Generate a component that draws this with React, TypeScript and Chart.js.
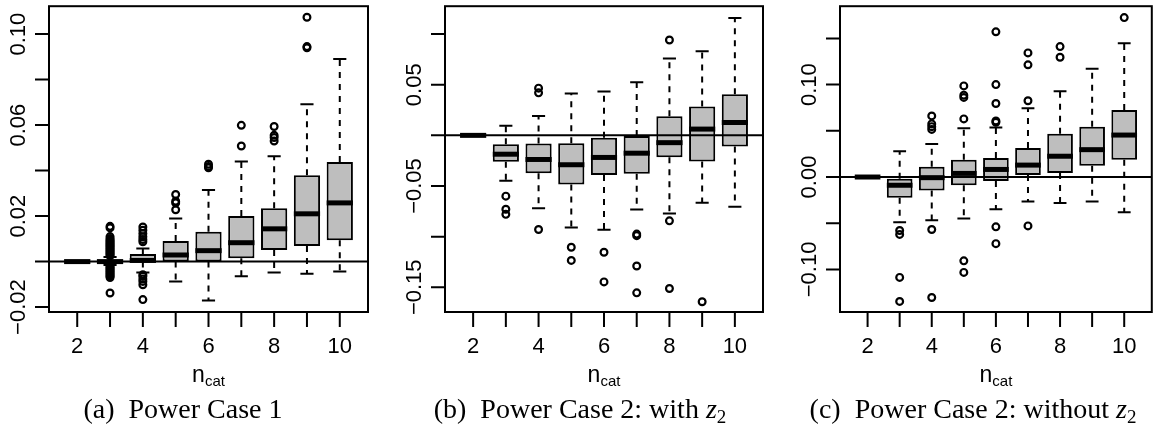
import React, { useEffect, useRef } from 'react';
import { Chart, registerables } from 'chart.js';
Chart.register(...registerables);

const CATEGORIES = [2, 3, 4, 5, 6, 7, 8, 9, 10];
const X_TICK_LABELS = ['2', '', '4', '', '6', '', '8', '', '10'];

// Panel (a) Power Case 1
const A_LOWER = [0, -0.0015, -0.0048, -0.0087, -0.0171, -0.0065, -0.0048, -0.0054, -0.0044];
const A_Q1 = [0, -0.0003, 0, 0, 0, 0.00145, 0.0051, 0.0068, 0.0094];
const A_MEDIAN = [0, 0, 0.0005, 0.0029, 0.0048, 0.0083, 0.0144, 0.021, 0.0258];
const A_Q3 = [0, 0.0003, 0.0033, 0.0091, 0.0131, 0.02, 0.0235, 0.038, 0.0438];
const A_UPPER = [0, 0.002, 0.0058, 0.0189, 0.0315, 0.044, 0.0463, 0.0692, 0.089];
const A_OUTLIERS = [
  [],
  [0.0155, 0.0148, 0.011, 0.0102, 0.0095, 0.009, 0.0085, 0.008, 0.0075, 0.007, 0.0065, 0.006, 0.0055, 0.005, 0.0045, 0.004, 0.0035, 0.003, 0.0025,
    -0.002, -0.0025, -0.003, -0.0035, -0.004, -0.0045, -0.005, -0.0055, -0.006, -0.0065, -0.007, -0.0138],
  [0.0152, 0.0138, 0.0123, 0.0109, 0.0097, 0.0087, -0.0058, -0.0065, -0.0077, -0.0087, -0.0102, -0.0167],
  [0.0295, 0.0265, 0.0258, 0.0228],
  [0.0428, 0.0418, 0.0412],
  [0.0599, 0.0508],
  [0.0594, 0.0555, 0.0545, 0.053],
  [0.1074, 0.0945, 0.094],
  [],
];
const A_Y_TICKS = [-0.02, 0, 0.02, 0.04, 0.06, 0.08, 0.1];
const A_Y_LABELS = ['\u22120.02', '', '0.02', '', '0.06', '', '0.10'];

// Panel (b) Power Case 2: with z2
const B_LOWER = [0, -0.0447, -0.072, -0.0909, -0.0932, -0.0733, -0.0772, -0.0665, -0.0704];
const B_Q1 = [0, -0.0261, -0.0375, -0.0486, -0.0391, -0.0378, -0.0215, -0.0257, -0.0111];
const B_MEDIAN = [0, -0.0186, -0.0238, -0.029, -0.0218, -0.0176, -0.0072, 0.0062, 0.0127];
const B_Q3 = [0, -0.0088, -0.0081, -0.0078, -0.0023, -0.0007, 0.0189, 0.0284, 0.0407];
const B_UPPER = [0, 0.0095, 0.0192, 0.0414, 0.0434, 0.0525, 0.0759, 0.0831, 0.116];
const B_OUTLIERS = [
  [],
  [-0.06, -0.073, -0.078],
  [0.0466, 0.042, -0.0929],
  [-0.1105, -0.1235],
  [-0.1154, -0.1447],
  [-0.0975, -0.099, -0.129, -0.1555],
  [0.0942, -0.0844, -0.1512],
  [-0.1643],
  [],
];
const B_Y_TICKS = [-0.15, -0.1, -0.05, 0, 0.05, 0.1];
const B_Y_LABELS = ['\u22120.15', '', '\u22120.05', '', '0.05', ''];

// Panel (c) Power Case 2: without z2
const C_LOWER = [0, -0.0489, -0.0468, -0.045, -0.035, -0.0264, -0.0282, -0.0264, -0.0382];
const C_Q1 = [0, -0.0225, -0.0146, -0.0089, -0.0043, 0.0021, 0.0043, 0.0121, 0.0186];
const C_MEDIAN = [0, -0.0089, -0.0007, 0.0039, 0.0082, 0.0129, 0.0225, 0.0296, 0.0454];
const C_Q3 = [0, -0.0018, 0.0111, 0.0186, 0.0207, 0.0314, 0.0468, 0.0543, 0.0725];
const C_UPPER = [0, 0.0279, 0.0357, 0.0529, 0.0536, 0.0743, 0.0929, 0.1171, 0.1446];
const C_OUTLIERS = [
  [],
  [-0.0579, -0.0621, -0.1086, -0.1346],
  [0.0661, 0.0575, 0.0545, 0.0515, -0.0568, -0.1304],
  [0.0986, 0.0886, 0.0861, 0.0629, -0.0907, -0.1032],
  [0.1571, 0.1, 0.0796, 0.0607, 0.0593, -0.0539, -0.0721],
  [0.1343, 0.1214, 0.0825, -0.0529],
  [0.1411, 0.1296],
  [],
  [0.1725],
];
const C_Y_TICKS = [-0.1, -0.05, 0, 0.05, 0.1, 0.15];
const C_Y_LABELS = ['\u22120.10', '', '0.00', '', '0.10', ''];

type Seg = { text: string; italic?: boolean; sub?: boolean };

type PanelDef = {
  left: number;
  width: number;
  padding: { left: number; right: number; top: number; bottom: number };
  yMin: number;
  yMax: number;
  lower: number[];
  q1: number[];
  median: number[];
  q3: number[];
  upper: number[];
  outliers: number[][];
  yTicks: number[];
  yLabels: string[];
  caption: Seg[];
  captionCenter: number;
};

const PANELS: PanelDef[] = [
  {
    left: 0, width: 385,
    padding: { left: 49, right: 17, top: 3, bottom: 122 },
    yMin: -0.02216, yMax: 0.11226,
    lower: A_LOWER, q1: A_Q1, median: A_MEDIAN, q3: A_Q3, upper: A_UPPER, outliers: A_OUTLIERS,
    yTicks: A_Y_TICKS, yLabels: A_Y_LABELS,
    caption: [{ text: '(a)  Power Case 1' }],
    captionCenter: 183,
  },
  {
    left: 385, width: 385,
    padding: { left: 60, right: 7, top: 3, bottom: 122 },
    yMin: -0.17441, yMax: 0.12754,
    lower: B_LOWER, q1: B_Q1, median: B_MEDIAN, q3: B_Q3, upper: B_UPPER, outliers: B_OUTLIERS,
    yTicks: B_Y_TICKS, yLabels: B_Y_LABELS,
    caption: [{ text: '(b)  Power Case 2: with ' }, { text: 'z', italic: true }, { text: '2', sub: true }],
    captionCenter: 195,
  },
  {
    left: 770, width: 388,
    padding: { left: 70, right: 1, top: 3, bottom: 122 },
    yMin: -0.14604, yMax: 0.18482,
    lower: C_LOWER, q1: C_Q1, median: C_MEDIAN, q3: C_Q3, upper: C_UPPER, outliers: C_OUTLIERS,
    yTicks: C_Y_TICKS, yLabels: C_Y_LABELS,
    caption: [{ text: '(c)  Power Case 2: without ' }, { text: 'z', italic: true }, { text: '2', sub: true }],
    captionCenter: 203,
  },
];

const X_MIN = 1.14;
const X_MAX = 10.86;
const BOX_HALF = 0.4;
const STAPLE_HALF = 0.2;
const SANS = '"Liberation Sans", Arial, Helvetica, sans-serif';
const SERIF = '"Liberation Serif", "Times New Roman", serif';

function makePlugin(p: PanelDef) {
  return {
    id: 'boxplotParts',
    beforeDatasetsDraw(chart: any) {
      const ctx = chart.ctx;
      const xs = chart.scales.x;
      const ys = chart.scales.y;
      ctx.save();
      ctx.strokeStyle = '#000';
      ctx.lineWidth = 2;
      CATEGORIES.forEach((c, i) => {
        const x = xs.getPixelForValue(c);
        const xl = xs.getPixelForValue(c - STAPLE_HALF);
        const xr = xs.getPixelForValue(c + STAPLE_HALF);
        ctx.setLineDash([6, 6]);
        ctx.beginPath();
        ctx.moveTo(x, ys.getPixelForValue(p.q3[i]));
        ctx.lineTo(x, ys.getPixelForValue(p.upper[i]));
        ctx.moveTo(x, ys.getPixelForValue(p.q1[i]));
        ctx.lineTo(x, ys.getPixelForValue(p.lower[i]));
        ctx.stroke();
        ctx.setLineDash([]);
        ctx.beginPath();
        const yu = ys.getPixelForValue(p.upper[i]);
        const yl = ys.getPixelForValue(p.lower[i]);
        ctx.moveTo(xl, yu);
        ctx.lineTo(xr, yu);
        ctx.moveTo(xl, yl);
        ctx.lineTo(xr, yl);
        ctx.stroke();
      });
      ctx.restore();
    },
    afterDatasetsDraw(chart: any) {
      const ctx = chart.ctx;
      const xs = chart.scales.x;
      const ys = chart.scales.y;
      const area = chart.chartArea;
      ctx.save();
      ctx.strokeStyle = '#000';
      ctx.lineCap = 'butt';
      ctx.lineWidth = 5;
      CATEGORIES.forEach((c, i) => {
        const y = ys.getPixelForValue(p.median[i]);
        ctx.beginPath();
        ctx.moveTo(xs.getPixelForValue(c - BOX_HALF), y);
        ctx.lineTo(xs.getPixelForValue(c + BOX_HALF), y);
        ctx.stroke();
      });
      // horizontal reference line at zero
      const y0 = ys.getPixelForValue(0);
      ctx.lineWidth = 2;
      ctx.beginPath();
      ctx.moveTo(area.left, y0);
      ctx.lineTo(area.right, y0);
      ctx.stroke();
      ctx.restore();
    },
    afterDraw(chart: any) {
      const ctx = chart.ctx;
      const xs = chart.scales.x;
      const ys = chart.scales.y;
      const area = chart.chartArea;
      ctx.save();
      ctx.strokeStyle = '#000';
      ctx.fillStyle = '#000';
      ctx.lineWidth = 2;
      ctx.strokeRect(area.left, area.top, area.right - area.left, area.bottom - area.top);
      // x ticks
      ctx.beginPath();
      CATEGORIES.forEach((c) => {
        const x = xs.getPixelForValue(c);
        ctx.moveTo(x, area.bottom);
        ctx.lineTo(x, area.bottom + 15);
      });
      // y ticks
      p.yTicks.forEach((v) => {
        const y = ys.getPixelForValue(v);
        ctx.moveTo(area.left, y);
        ctx.lineTo(area.left - 14, y);
      });
      ctx.stroke();
      ctx.font = '22px ' + SANS;
      ctx.textAlign = 'center';
      ctx.textBaseline = 'alphabetic';
      CATEGORIES.forEach((c, i) => {
        if (X_TICK_LABELS[i]) ctx.fillText(X_TICK_LABELS[i], xs.getPixelForValue(c), area.bottom + 41);
      });
      p.yTicks.forEach((v, i) => {
        const lab = p.yLabels[i];
        if (!lab) return;
        ctx.save();
        ctx.translate(area.left - 24, ys.getPixelForValue(v));
        ctx.rotate(-Math.PI / 2);
        ctx.fillText(lab, 0, 0);
        ctx.restore();
      });
      // axis title n_cat
      const cx = (area.left + area.right) / 2;
      ctx.font = '23px ' + SANS;
      const wn = ctx.measureText('n').width;
      ctx.font = '15px ' + SANS;
      const wc = ctx.measureText('cat').width;
      const start = cx - (wn + wc) / 2;
      ctx.textAlign = 'left';
      ctx.font = '23px ' + SANS;
      ctx.fillText('n', start, 382);
      ctx.font = '15px ' + SANS;
      ctx.fillText('cat', start + wn, 386);
      // caption
      const fontFor = (s: Seg) => (s.italic ? 'italic ' : '') + (s.sub ? '19px ' : '28px ') + SERIF;
      let total = 0;
      p.caption.forEach((s) => {
        ctx.font = fontFor(s);
        total += ctx.measureText(s.text).width;
      });
      let cxp = p.captionCenter - total / 2;
      p.caption.forEach((s) => {
        ctx.font = fontFor(s);
        ctx.fillText(s.text, cxp, s.sub ? 423 : 418);
        cxp += ctx.measureText(s.text).width;
      });
      ctx.restore();
    },
  };
}

function Panel({ def }: { def: PanelDef }) {
  const ref = useRef<HTMLCanvasElement | null>(null);
  useEffect(() => {
    if (!ref.current) return;
    const boxData = CATEGORIES.map((c, i) => ({ x: c, y: [def.q1[i], def.q3[i]] }));
    const outData: { x: number; y: number }[] = [];
    CATEGORIES.forEach((c, i) => def.outliers[i].forEach((v) => outData.push({ x: c, y: v })));
    const chart = new Chart(ref.current, {
      type: 'bar',
      data: {
        datasets: [
          {
            type: 'bar',
            data: boxData as any,
            backgroundColor: '#BEBEBE',
            borderColor: '#000',
            borderWidth: 2,
            borderSkipped: false,
            barPercentage: 0.8,
            categoryPercentage: 1,
            order: 2,
          } as any,
          {
            type: 'scatter',
            data: outData,
            pointStyle: 'circle',
            pointRadius: 3.4,
            pointBorderWidth: 2.2,
            pointBorderColor: '#000',
            pointBackgroundColor: 'rgba(0,0,0,0)',
            showLine: false,
            order: 1,
          } as any,
        ],
      },
      options: {
        responsive: false,
        animation: false,
        devicePixelRatio: 1,
        layout: { padding: def.padding },
        plugins: { legend: { display: false }, tooltip: { enabled: false } },
        scales: {
          x: { type: 'linear', min: X_MIN, max: X_MAX, offset: false, display: false },
          y: { type: 'linear', min: def.yMin, max: def.yMax, display: false },
        },
      } as any,
      plugins: [makePlugin(def)],
    });
    return () => chart.destroy();
  }, [def]);
  return (
    <canvas
      ref={ref}
      width={def.width}
      height={434}
      style={{ position: 'absolute', left: def.left, top: 0, width: def.width, height: 434 }}
    />
  );
}

export default function App() {
  return (
    <div style={{ position: 'fixed', left: 0, top: 0, width: 1158, height: 434, background: '#fff', overflow: 'hidden' }}>
      {PANELS.map((d, i) => (
        <Panel key={i} def={d} />
      ))}
    </div>
  );
}
